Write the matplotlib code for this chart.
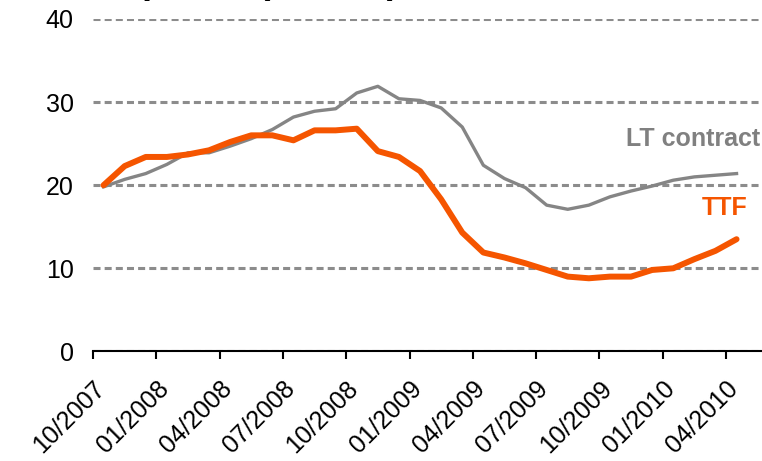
import numpy as np
import matplotlib
matplotlib.use("Agg")
import matplotlib.pyplot as plt

plt.rcParams['font.family'] = ['Liberation Sans', 'DejaVu Sans']

months = ["10/2007", "11/2007", "12/2007", "01/2008", "02/2008", "03/2008",
          "04/2008", "05/2008", "06/2008", "07/2008", "08/2008", "09/2008",
          "10/2008", "11/2008", "12/2008", "01/2009", "02/2009", "03/2009",
          "04/2009", "05/2009", "06/2009", "07/2009", "08/2009", "09/2009",
          "10/2009", "11/2009", "12/2009", "01/2010", "02/2010", "03/2010",
          "04/2010"]
ttf = [20.0, 22.3, 23.4, 23.4, 23.7, 24.2, 25.2, 26.0, 26.0, 25.4, 26.6,
       26.6, 26.8, 24.1, 23.4, 21.7, 18.3, 14.3, 11.9, 11.3, 10.6, 9.8,
       9.0, 8.8, 9.0, 9.0, 9.8, 10.0, 11.1, 12.1, 13.5]
lt_contract = [19.8, 20.7, 21.4, 22.5, 23.9, 23.9, 24.7, 25.6, 26.7, 28.2,
               28.9, 29.2, 31.1, 31.9, 30.4, 30.2, 29.3, 27.0, 22.4, 20.8,
               19.7, 17.6, 17.1, 17.6, 18.6, 19.3, 19.9, 20.6, 21.0, 21.2,
               21.4]
tick_labels = months[::3]
yticks = [0, 10, 20, 30, 40]

W, H = 762, 461
fig = plt.figure(figsize=(W / 100, H / 100), dpi=100)
left, right_px = 93, 93 + 32 * 21.1
bottom_px, top_px = 351.4, 19
ax = fig.add_axes([left / W, (H - bottom_px) / H, (right_px - left) / W,
                   (bottom_px - top_px) / H])

x = np.arange(len(months)) + 0.5
ax.plot(x, lt_contract, color='#858585', lw=2.4, solid_joinstyle='round',
        zorder=3)
ax.plot(x, ttf, color='#F55500', lw=4.3, solid_joinstyle='round',
        solid_capstyle='round', zorder=4)

ax.set_xlim(0, 32)
ax.set_ylim(0, 40)
ax.set_yticks(yticks)
ax.set_yticklabels([str(v) for v in yticks])
ax.set_xticks(np.arange(len(tick_labels)) * 3)
ax.set_xticklabels(tick_labels, rotation=45, ha='right',
                   rotation_mode='anchor')

ax.grid(axis='y', color='#8c8c8c', linewidth=2.2,
        linestyle=(0, (2.3, 1.35)))
ax.grid(axis='x', visible=False)
ax.set_axisbelow(True)
for s in ['top', 'right', 'left']:
    ax.spines[s].set_visible(False)
ax.spines['bottom'].set_linewidth(1.5)
ax.spines['bottom'].set_color('black')
ax.tick_params(axis='y', length=0, pad=14, labelsize=18)
ax.tick_params(axis='x', length=6, width=1.5, direction='out', pad=12,
               labelsize=18)
ax.spines['bottom'].set_zorder(5)

ax.text(31.6, 25.6, "LT contract", color='#808080', fontsize=18,
        fontweight='bold', ha='right', va='center')
ax.text(31.0, 17.3, "TTF", color='#F55500', fontsize=18,
        fontweight='bold', ha='right', va='center')

fig.text(64 / W, 1 + 7 / H, "Gas prices (€/MWh)", fontsize=26,
         fontweight='bold', ha='left', va='baseline', color='black')

fig.savefig("out.png", dpi=100)
